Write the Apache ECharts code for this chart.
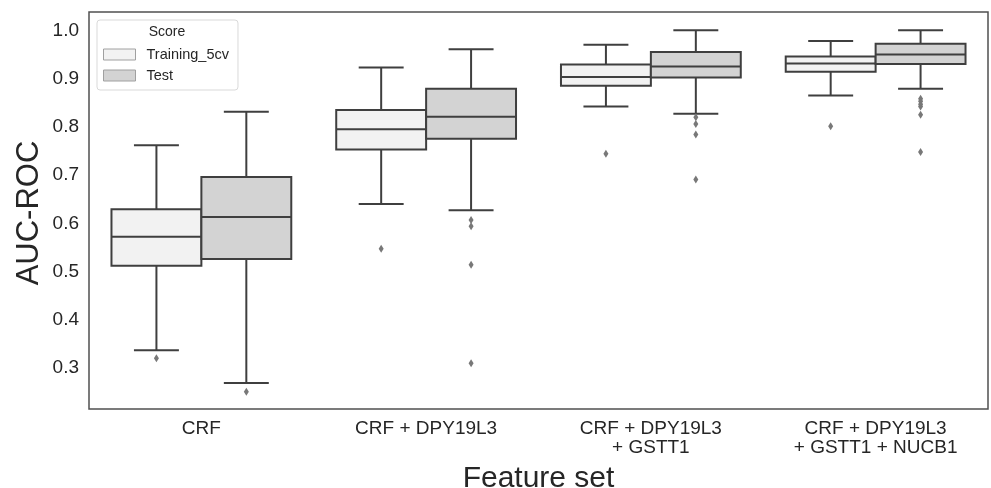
<!DOCTYPE html>
<html>
<head>
<meta charset="utf-8">
<script src="https://cdn.jsdelivr.net/npm/echarts@6/dist/echarts.min.js"></script>
<style>
  html, body { margin: 0; padding: 0; background: #fff; }
  #chart { width: 991px; height: 488px; }
</style>
</head>
<body>
<div id="chart"></div>
<script>
const categories = [
  "CRF",
  "CRF + DPY19L3",
  "CRF + DPY19L3\n+ GSTT1",
  "CRF + DPY19L3\n+ GSTT1 + NUCB1",
];
// [min, q1, median, q3, max]
const trainingBoxes = [
  [0.337, 0.512, 0.572, 0.629, 0.762],
  [0.640, 0.753, 0.795, 0.835, 0.923],
  [0.842, 0.885, 0.903, 0.929, 0.970],
  [0.865, 0.914, 0.931, 0.946, 0.978],
];
const testBoxes = [
  [0.269, 0.526, 0.613, 0.696, 0.831],
  [0.627, 0.775, 0.821, 0.879, 0.961],
  [0.827, 0.902, 0.925, 0.955, 1.000],
  [0.879, 0.930, 0.950, 0.972, 1.000],
];
// [category index, value]
const trainingOutliers = [
  [0, 0.320], [1, 0.547], [2, 0.744], [3, 0.801],
];
const testOutliers = [
  [0, 0.251],
  [1, 0.607], [1, 0.594], [1, 0.514], [1, 0.310],
  [2, 0.820], [2, 0.806], [2, 0.784], [2, 0.691],
  [3, 0.858], [3, 0.853], [3, 0.847], [3, 0.842], [3, 0.825], [3, 0.748],
];
const yTicks = [0.3, 0.4, 0.5, 0.6, 0.7, 0.8, 0.9, 1.0];

const lineColor = "#3f3f3f";
const trainFill = "#f2f2f2";
const testFill = "#d3d3d3";
const font = "'Liberation Sans', Arial, sans-serif";

// side: -1 left box (training), +1 right box (test)
const boxRenderer = (side, fill) => (params, api) => {
  const cat = api.value(0);
  const band = api.size([1, 0])[0];
  const half = band * 0.2;
  const cx = api.coord([cat, 0])[0] + side * half;
  const y = (i) => api.coord([cat, api.value(i)])[1];
  const yMin = y(1), yQ1 = y(2), yMed = y(3), yQ3 = y(4), yMax = y(5);
  const cap = half / 2;
  const st = { stroke: lineColor, lineWidth: 2 };
  return {
    type: "group",
    children: [
      { type: "line", shape: { x1: cx, y1: yQ3, x2: cx, y2: yMax }, style: st },
      { type: "line", shape: { x1: cx, y1: yQ1, x2: cx, y2: yMin }, style: st },
      { type: "line", shape: { x1: cx - cap, y1: yMax, x2: cx + cap, y2: yMax }, style: st },
      { type: "line", shape: { x1: cx - cap, y1: yMin, x2: cx + cap, y2: yMin }, style: st },
      {
        type: "rect",
        shape: { x: cx - half, y: yQ3, width: half * 2, height: yQ1 - yQ3 },
        style: { fill: fill, stroke: lineColor, lineWidth: 2 },
      },
      { type: "line", shape: { x1: cx - half, y1: yMed, x2: cx + half, y2: yMed }, style: st },
    ],
  };
};

const outlierRenderer = (side) => (params, api) => {
  const cat = api.value(0);
  const band = api.size([1, 0])[0];
  const p = api.coord([cat, api.value(1)]);
  const cx = p[0] + side * band * 0.2;
  const cy = p[1];
  return {
    type: "polygon",
    shape: { points: [[cx, cy - 4], [cx + 2.5, cy], [cx, cy + 4], [cx - 2.5, cy]] },
    style: { fill: "#787878" },
  };
};

const option = {
  animation: false,
  grid: {
    left: 89,
    right: 3,
    top: 12,
    bottom: 79,
    outerBoundsMode: "none",
    show: true,
    borderColor: "#505050",
    borderWidth: 1.5,
  },
  graphic: [
    {
      type: "text",
      x: 167,
      y: 32.5,
      z: 100,
      style: {
        text: "Score",
        fontSize: 14,
        fontFamily: font,
        fill: "#262626",
        textAlign: "center",
        textVerticalAlign: "middle",
      },
    },
    {
      // y axis title
      type: "text",
      x: 29.5,
      y: 213,
      rotation: Math.PI / 2,
      style: {
        text: "AUC-ROC",
        fontSize: 31,
        fontFamily: font,
        fill: "#262626",
        textAlign: "center",
        textVerticalAlign: "middle",
      },
    },
  ],
  legend: {
    left: 97,
    top: 20,
    orient: "vertical",
    icon: "rect",
    itemWidth: 32,
    itemHeight: 11,
    itemGap: 6,
    padding: [27, 9, 7, 6],
    backgroundColor: "#fff",
    borderColor: "#d9d9d9",
    borderWidth: 1,
    borderRadius: 3,
    textStyle: { fontSize: 14.5, fontFamily: font, color: "#262626", padding: [0, 0, 0, 6] },
    data: [
      { name: "Training_5cv", itemStyle: { color: trainFill, borderColor: "#a0a0a0", borderWidth: 1 } },
      { name: "Test", itemStyle: { color: testFill, borderColor: "#a0a0a0", borderWidth: 1 } },
    ],
  },
  xAxis: {
    type: "category",
    data: categories,
    name: "Feature set",
    nameLocation: "middle",
    nameGap: 55,
    nameTextStyle: { fontSize: 30, fontFamily: font, color: "#262626" },
    axisLine: { show: false },
    axisTick: { show: false },
    splitLine: { show: false },
    axisLabel: {
      interval: 0,
      margin: 10,
      fontSize: 19,
      lineHeight: 19,
      fontFamily: font,
      color: "#262626",
    },
  },
  yAxis: {
    type: "value",
    min: 0.215,
    max: 1.038,
    axisLine: { show: false },
    axisTick: { show: false },
    splitLine: { show: false },
    axisLabel: {
      customValues: yTicks,
      margin: 10,
      fontSize: 19,
      fontFamily: font,
      color: "#262626",
      formatter: (v) => v.toFixed(1),
    },
  },
  series: [
    {
      name: "Training_5cv",
      type: "custom",
      renderItem: boxRenderer(-1, trainFill),
      encode: { x: 0, y: [1, 2, 3, 4, 5] },
      itemStyle: { color: trainFill },
      data: trainingBoxes.map((b, i) => [i, ...b]),
    },
    {
      name: "Test",
      type: "custom",
      renderItem: boxRenderer(1, testFill),
      encode: { x: 0, y: [1, 2, 3, 4, 5] },
      itemStyle: { color: testFill },
      data: testBoxes.map((b, i) => [i, ...b]),
    },
    {
      name: "Training_5cv",
      type: "custom",
      renderItem: outlierRenderer(-1),
      encode: { x: 0, y: 1 },
      data: trainingOutliers,
    },
    {
      name: "Test",
      type: "custom",
      renderItem: outlierRenderer(1),
      encode: { x: 0, y: 1 },
      data: testOutliers,
    },
  ],
};

const chart = echarts.init(document.getElementById("chart"));
chart.setOption(option);
</script>
</body>
</html>
